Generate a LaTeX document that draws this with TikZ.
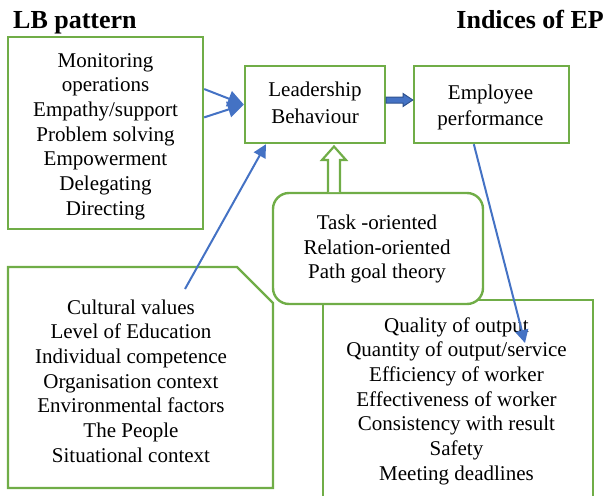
\documentclass[tikz,border=0pt]{standalone}
\usepackage{fontspec}
\setmainfont{Liberation Serif}
\usetikzlibrary{arrows.meta}
\definecolor{boxgreen}{RGB}{112,173,71}
\definecolor{linkblue}{RGB}{68,114,196}
\definecolor{darkblue}{RGB}{47,82,143}
\begin{document}
\begin{tikzpicture}[x=1pt,y=-1pt,
  frame/.style={draw=boxgreen, line width=2.4pt, inner sep=0pt, fill=white},
  body/.style={align=center, inner sep=0pt, font=\fontsize{21}{24.7}\selectfont},
  heading/.style={inner sep=0pt, font=\fontsize{26}{30}\selectfont\bfseries},
  link/.style={draw=linkblue, line width=2pt, -{Triangle[length=13pt,width=13pt]}},
]
\useasboundingbox (0,0) rectangle (606,496);

% headings
\node[heading, anchor=base west] (lbhead) at (13,28) {LB pattern};
\node[heading, anchor=base east] (ephead) at (604,28) {Indices of EP};

% indices of employee performance (runs past the lower edge)
\draw[boxgreen, line width=2.4pt] (323,497) -- (323,300) -- (593,300) -- (593,497);
\node[body] (indices) at (456.5,401) {Quality of output\\Quantity of output/service\\Efficiency of worker\\Effectiveness of worker\\Consistency with result\\Safety\\Meeting deadlines};

% leadership behaviour pattern
\node[frame, minimum width=195pt, minimum height=192pt] (lbbox) at (105.5,133) {};
\node[body] (lbtext) at (105.5,136.5) {Monitoring\\operations\\Empathy/support\\Problem solving\\Empowerment\\Delegating\\Directing};

% situational factors, cut corner at top right
\draw[boxgreen, line width=2.4pt, fill=white] (8,267) -- (237,267) -- (273,303) -- (273,488) -- (8,488) -- cycle;
\node[body] (factors) at (131,381) {Cultural values\\Level of Education\\Individual competence\\Organisation context\\Environmental factors\\The People\\Situational context};

% leadership theories
\node[frame, rounded corners=16pt, minimum width=210pt, minimum height=111pt] (theory) at (378,248.5) {};
\node[body] (theorytext) at (377,249) {Task -oriented\\Relation-oriented\\Path goal theory};

% central boxes
\node[frame, minimum width=140pt, minimum height=77pt] (lead) at (315,104.5) {};
\node[body, font=\fontsize{21}{27}\selectfont] (leadtext) at (315,102.5) {Leadership\\Behaviour};
\node[frame, minimum width=155pt, minimum height=77pt] (emp) at (491.5,104.5) {};
\node[body, font=\fontsize{21}{26}\selectfont] (emptext) at (490.5,107) {Employee\\performance};

% block arrow from behaviour to performance
\draw[draw=darkblue, fill=linkblue, line width=1pt, line join=miter]
  (lead.east |- 0,97) -- (403,97) -- (403,93.5) -- (emp.west |- 0,100) -- (403,106.5) -- (403,103) -- (lead.east |- 0,103) -- cycle;

% hollow arrow from theories to behaviour
\draw[boxgreen, line width=2.2pt, fill=white, line join=miter]
  (328,192) -- (328,160) -- (322,160) -- (334,146.5) -- (346,160) -- (340,160) -- (340,192);

% connectors
\coordinate (fstart) at (185,289);
\coordinate (istop) at (525,343);
\draw[link, -{Triangle[length=16pt,width=16pt]}] (lbbox.24) -- (lead.west);
\draw[link, -{Triangle[length=16pt,width=16pt]}] (lbbox.9) -- (lead.west);
\draw[link] (fstart) -- (lead.219);
\draw[link] (emp.246.8) -- (istop);
\end{tikzpicture}
\end{document}
